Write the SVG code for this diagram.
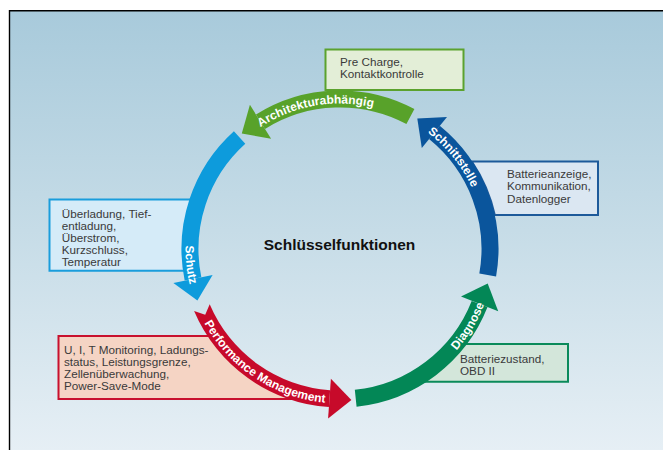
<svg xmlns="http://www.w3.org/2000/svg" width="663" height="450" viewBox="0 0 663 450">
<style>
.lbl{font-family:"Liberation Sans",Arial,sans-serif;font-size:12px;font-weight:bold;fill:#fff}
.bt{font-family:"Liberation Sans",Arial,sans-serif;font-size:11.7px;fill:#3a3a3a}
.band{fill:none;stroke-width:17;stroke-linecap:butt}
.bx{stroke-width:2}
</style>
<defs>
<linearGradient id="bg" x1="0" y1="0" x2="0" y2="1">
<stop offset="0" stop-color="#a8cadb"/>
<stop offset="0.5" stop-color="#c6dce7"/>
<stop offset="1" stop-color="#e6eff5"/>
</linearGradient>
<path id="tpA" d="M214,176.25 A145.5,145.5 0 0 1 433.5,137.5"/>
<path id="tpB" d="M228.9,141.7 A154.5,154.5 0 0 0 253.6,377.1"/>
<path id="tpC" d="M186.5,266.5 A154.5,154.5 0 0 0 383.9,397.1"/>
<path id="tpD" d="M364.2,401.6 A154.5,154.5 0 0 0 486.1,198.7"/>
<path id="tpE" d="M342.5,103.5 A145.5,145.5 0 0 1 482.8,276.8"/>
</defs>
<rect width="663" height="450" fill="#fff"/>
<rect x="9.5" y="10.5" width="654" height="440" fill="url(#bg)"/>
<path d="M9.5,450 V10.7 H663" fill="none" stroke="#000" stroke-width="1.4"/>

<g id="box-top">
<rect class="bx" x="325.5" y="49.5" width="138" height="40.5" fill="#e3eed7" stroke="#5ba22e"/>
<text class="bt" x="340" y="66.3">Pre Charge,</text>
<text class="bt" x="340" y="78.3">Kontaktkontrolle</text>
</g>
<g id="box-right">
<path class="bx" d="M598,161.5 L471.8,161.5 A158.5,158.5 0 0 1 494.8,215 L598,215 Z" fill="#dbe7f2" stroke="#1d5a9a"/>
<text class="bt" x="507" y="177.5">Batterieanzeige,</text>
<text class="bt" x="507" y="190">Kommunikation,</text>
<text class="bt" x="507" y="202.5">Datenlogger</text>
</g>
<g id="box-left">
<path class="bx" d="M49.5,199.5 L198.5,199.5 A150,150 0 0 0 191.6,270.7 L49.5,270.7 Z" fill="#d5ebf8" stroke="#1a9ddc"/>
<text class="bt" x="61.7" y="217.5">Überladung, Tief-</text>
<text class="bt" x="61.7" y="229.5">entladung,</text>
<text class="bt" x="61.7" y="241.5">Überstrom,</text>
<text class="bt" x="61.7" y="253.5">Kurzschluss,</text>
<text class="bt" x="61.7" y="265.5">Temperatur</text>
</g>
<g id="box-bottom-left">
<path class="bx" d="M58.5,336 L217.8,336 A150,150 0 0 0 320,397.7 L320,399 L58.5,399 Z" fill="#f5d4c4" stroke="#c8102e"/>
<text class="bt" x="64" y="354">U, I, T Monitoring, Ladungs-</text>
<text class="bt" x="64" y="366">status, Leistungsgrenze,</text>
<text class="bt" x="64" y="378">Zellenüberwachung,</text>
<text class="bt" x="64" y="390">Power-Save-Mode</text>
</g>
<g id="box-bottom-right">
<path class="bx" d="M568,344 L456.1,344 A150,150 0 0 1 409.9,381.7 L568,381.7 Z" fill="#d3e6da" stroke="#0a8a5a"/>
<text class="bt" x="460" y="362.5">Batteriezustand,</text>
<text class="bt" x="460" y="374.5">OBD II</text>
</g>

<g id="connectors">
<g id="arrow-architektur">
<path class="band" stroke="#58a22a" d="M410.4,116.6 A150,150 0 0 0 260.5,121.8"/>
<polygon fill="#58a22a" points="249.9,104.8 241.8,133.5 271.1,138.8"/>
<text class="lbl"><textPath href="#tpA" startOffset="50%" text-anchor="middle">Architekturabhängig</textPath></text>
</g>
<g id="arrow-schutz">
<path class="band" stroke="#0d9bdc" d="M239.6,137.5 A150,150 0 0 0 193,278.9"/>
<polygon fill="#0d9bdc" points="173.4,282.9 197.4,300.5 212.6,274.9"/>
<text class="lbl"><textPath href="#tpB" startOffset="50%" text-anchor="middle">Schutz</textPath></text>
</g>
<g id="arrow-performance">
<path fill="#c70a2a" d="M194.1,310.9 L205.2,314.8 L209.7,304.3 A141.5,141.5 0 0 0 330.1,390.2 L328.9,407.1 A158.5,158.5 0 0 1 194.1,310.9 Z"/>
<polygon fill="#c70a2a" points="328.1,418.6 351.4,400.1 330.9,378.7"/>
<text class="lbl"><textPath href="#tpC" startOffset="50%" text-anchor="middle">Performance Management</textPath></text>
</g>
<g id="arrow-diagnose">
<path class="band" stroke="#038756" d="M355.7,398.2 A150,150 0 0 0 479.6,304"/>
<polygon fill="#038756" points="498.2,311.3 487.7,283.5 461,296.6"/>
<text class="lbl"><textPath href="#tpD" startOffset="50%" text-anchor="middle">Diagnose</textPath></text>
</g>
<g id="arrow-schnittstelle">
<path class="band" stroke="#0a559c" d="M487.7,275 A150,150 0 0 0 434.4,132.4"/>
<polygon fill="#0a559c" points="447,116.9 417.3,118.6 421.8,148"/>
<text class="lbl"><textPath href="#tpE" startOffset="50%" text-anchor="middle">Schnittstelle</textPath></text>
</g>
</g>

<g id="center">
<text x="339.5" y="249.5" text-anchor="middle" font-family="Liberation Sans, Arial, sans-serif" font-size="15.5" font-weight="bold" fill="#111">Schlüsselfunktionen</text>
</g>
</svg>
